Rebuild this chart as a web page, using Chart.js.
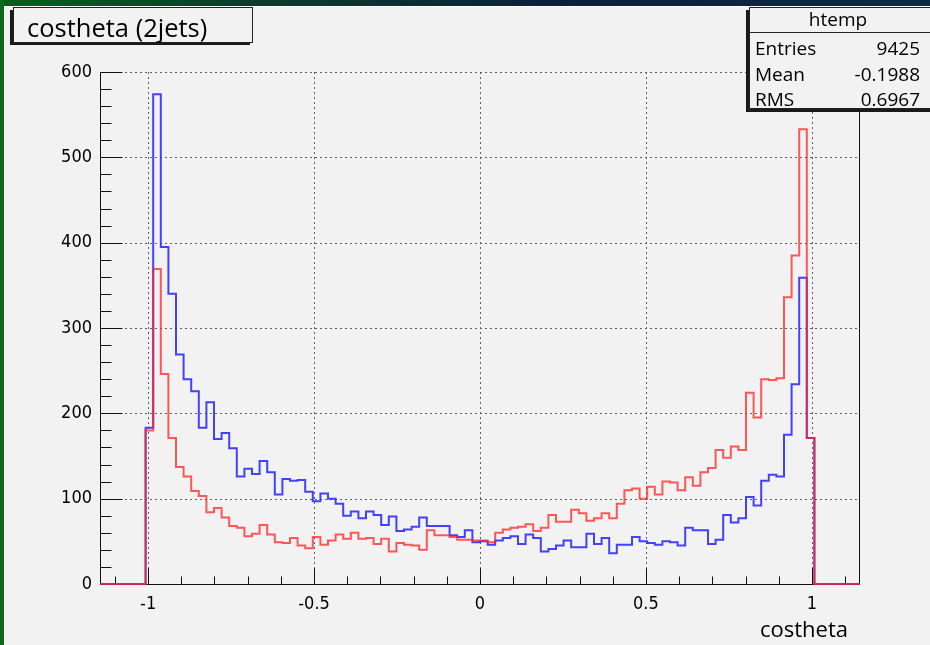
<!DOCTYPE html>
<html>
<head>
<meta charset="utf-8">
<title>costheta (2jets)</title>
<script src="https://cdn.jsdelivr.net/npm/chart.js@4.4.0/dist/chart.umd.min.js"></script>
<style>
  html, body { margin: 0; padding: 0; background: #f2f2f2; overflow: hidden; }
  #wrap { position: relative; width: 930px; height: 645px; }
  canvas { display: block; }
</style>
</head>
<body>
<div id="wrap"><canvas id="c" width="930" height="645"></canvas></div>
<script>
// Histogram binning (100 equal bins over the axis range)
const X_MIN = -1.145;
const X_MAX = 1.145;
const N_BINS = 100;
const Y_MIN = 0;
const Y_MAX = 600;

// Axis ticks
const xTickValues = [-1, -0.5, 0, 0.5, 1];
const xTickLabels = ['-1', '-0.5', '0', '0.5', '1'];
const yTickValues = [0, 100, 200, 300, 400, 500, 600];
const yTickLabels = ['0', '100', '200', '300', '400', '500', '600'];

// Bin contents, one entry per bin, left to right
const htempCounts = [
  0, 0, 0, 0, 0, 0,
  183, 574, 395, 340, 269, 240, 226, 183, 213, 170,
  177, 159, 126, 135, 129, 144, 131, 105, 123, 121,
  122, 108, 97, 106, 100, 94, 80, 85, 77, 85,
  81, 69, 79, 62, 64, 67, 78, 68, 68, 68,
  57, 55, 63, 49, 50, 46, 51, 54, 56, 47,
  58, 54, 38, 41, 45, 51, 43, 43, 59, 47,
  54, 36, 46, 46, 55, 50, 48, 46, 50, 49,
  45, 66, 63, 63, 47, 52, 81, 72, 77, 102,
  92, 121, 128, 126, 175, 234, 359, 171,
  0, 0, 0, 0, 0, 0
];
const overlayCounts = [
  0, 0, 0, 0, 0, 0,
  180, 369, 246, 171, 137, 126, 109, 103, 84, 89,
  78, 68, 66, 56, 59, 69, 58, 49, 48, 54,
  45, 42, 55, 46, 51, 58, 53, 60, 53, 54,
  47, 53, 38, 48, 46, 45, 40, 63, 57, 57,
  55, 52, 52, 51, 51, 49, 60, 64, 66, 67,
  70, 62, 66, 81, 73, 73, 87, 83, 74, 77,
  83, 77, 94, 110, 112, 100, 114, 105, 120, 119,
  110, 125, 115, 131, 136, 157, 148, 161, 157, 224,
  195, 240, 239, 241, 336, 385, 533, 171,
  0, 0, 0, 0, 0, 0
];

// Texts
const titleText = 'costheta (2jets)';
const xAxisTitle = 'costheta';
const statsName = 'htemp';
const statsLabels = ['Entries', 'Mean', 'RMS'];
const statsValues = ['9425', '-0.1988', '0.6967'];

// Step outline points: left edge of every bin, closed at the right end of the range
function histPoints(counts) {
  const w = (X_MAX - X_MIN) / N_BINS;
  const pts = counts.map((c, i) => ({ x: X_MIN + i * w, y: c }));
  pts.push({ x: X_MAX, y: counts[counts.length - 1] });
  return pts;
}

const tickFont = "'Liberation Sans Narrow', 'DejaVu Sans Condensed', 'Liberation Sans', sans-serif";
const textFont = "'Open Sans', 'Noto Sans', sans-serif";

const rootStyle = {
  id: 'rootStyle',
  beforeDraw(chart) {
    const ctx = chart.ctx;
    ctx.save();
    ctx.fillStyle = '#f2f2f2';
    ctx.fillRect(0, 0, chart.width, chart.height);
    // window edge strips
    const g = ctx.createLinearGradient(0, 0, chart.width, 0);
    g.addColorStop(0, '#0a5e1e');
    g.addColorStop(0.3, '#0c3a2c');
    g.addColorStop(0.6, '#0b1f3c');
    g.addColorStop(1, '#0e2a44');
    ctx.fillStyle = g;
    ctx.fillRect(0, 0, chart.width, 6);
    ctx.fillStyle = '#0a6a1c';
    ctx.fillRect(0, 0, 4, chart.height);
    ctx.fillStyle = '#ffffff';
    ctx.fillRect(4, 6, chart.width - 4, 1);
    ctx.fillRect(4, 6, 1, chart.height - 6);
    ctx.restore();
  },
  beforeDatasetsDraw(chart) {
    const ctx = chart.ctx;
    const xs = chart.scales.x, ys = chart.scales.y;
    const a = chart.chartArea;
    ctx.save();
    // dotted grid
    ctx.strokeStyle = '#5e5e5e';
    ctx.lineWidth = 1;
    ctx.setLineDash([2, 3]);
    xTickValues.forEach(v => {
      const px = Math.round(xs.getPixelForValue(v)) + 0.5;
      ctx.beginPath(); ctx.moveTo(px, a.bottom); ctx.lineTo(px, a.top); ctx.stroke();
    });
    yTickValues.forEach(v => {
      if (v === Y_MIN) return;
      const py = Math.round(ys.getPixelForValue(v)) + 0.5;
      ctx.beginPath(); ctx.moveTo(a.left, py); ctx.lineTo(a.right, py); ctx.stroke();
    });
    ctx.setLineDash([]);

    // frame and ticks, under the histograms
    const L = Math.round(a.left) + 0.5, R = Math.round(a.right) - 0.5;
    const B = Math.round(a.bottom) + 0.5, T = Math.round(a.top);
    ctx.strokeStyle = '#111';
    ctx.beginPath();
    ctx.moveTo(L, T); ctx.lineTo(L, B); ctx.lineTo(R, B); ctx.lineTo(R, T);
    ctx.stroke();
    // y ticks: majors every 100, minors every 20
    for (let v = Y_MIN; v <= Y_MAX; v += 20) {
      const py = Math.round(ys.getPixelForValue(v)) + 0.5;
      const len = (v % 100 === 0) ? 22 : 11;
      ctx.beginPath(); ctx.moveTo(L, py); ctx.lineTo(L + len, py); ctx.stroke();
    }
    // x ticks: majors every 0.5, minors every 0.1
    for (let i = -11; i <= 11; i++) {
      const v = i / 10;
      const px = Math.round(xs.getPixelForValue(v)) + 0.5;
      const len = (i % 5 === 0) ? 16 : 8;
      ctx.beginPath(); ctx.moveTo(px, B); ctx.lineTo(px, B - len); ctx.stroke();
    }
    ctx.restore();
  },
  afterDraw(chart) {
    const ctx = chart.ctx;
    const a = chart.chartArea;
    ctx.save();
    // title box with shadow
    ctx.fillStyle = '#1a1a1a';
    ctx.fillRect(10, 10, 3, 35);
    ctx.fillRect(10, 42, 240, 3);
    ctx.fillStyle = '#f2f2f2';
    ctx.fillRect(13, 7, 239, 35);
    ctx.strokeStyle = '#222';
    ctx.lineWidth = 1;
    ctx.strokeRect(13.5, 7.5, 239, 35);
    ctx.fillStyle = '#000';
    ctx.font = '25.5px ' + textFont;
    ctx.textBaseline = 'alphabetic';
    ctx.textAlign = 'left';
    ctx.fillText(titleText, 27, 37);

    // statistics box with shadow
    ctx.fillStyle = '#1a1a1a';
    ctx.fillRect(746, 10, 3, 102);
    ctx.fillRect(746, 109, 190, 3);
    ctx.fillStyle = '#f2f2f2';
    ctx.fillRect(749, 7, 190, 102);
    ctx.strokeStyle = '#222';
    ctx.beginPath();
    ctx.moveTo(chart.width, 7.5); ctx.lineTo(749.5, 7.5); ctx.lineTo(749.5, 108.5); ctx.lineTo(chart.width, 108.5);
    ctx.moveTo(749.5, 32.5); ctx.lineTo(chart.width, 32.5);
    ctx.stroke();
    ctx.fillStyle = '#000';
    ctx.font = '19px ' + textFont;
    ctx.textAlign = 'center';
    ctx.fillText(statsName, 838, 26);
    const rowY = [55, 81, 106];
    statsLabels.forEach((lab, i) => {
      ctx.textAlign = 'left';
      ctx.fillText(lab, 755, rowY[i]);
      ctx.textAlign = 'right';
      ctx.fillText(statsValues[i], 920, rowY[i]);
    });

    // x axis title
    ctx.font = '22px ' + textFont;
    ctx.textAlign = 'right';
    ctx.fillText(xAxisTitle, a.right - 12, 637);
    ctx.restore();
  }
};

new Chart(document.getElementById('c'), {
  type: 'line',
  data: {
    datasets: [
      {
        label: 'overlay',
        data: histPoints(overlayCounts),
        borderColor: 'rgba(255, 35, 35, 0.75)',
        borderWidth: 2,
        stepped: true,
        pointRadius: 0,
        fill: false,
        order: 0,
        clip: 4
      },
      {
        label: statsName,
        data: histPoints(htempCounts),
        borderColor: 'rgba(35, 35, 255, 0.85)',
        borderWidth: 2,
        stepped: true,
        pointRadius: 0,
        fill: false,
        order: 1,
        clip: 4
      }
    ]
  },
  options: {
    responsive: false,
    animation: false,
    devicePixelRatio: 1,
    layout: { padding: { left: 0, right: 70, top: 72, bottom: 0 } },
    plugins: {
      legend: { display: false },
      tooltip: { enabled: false },
      title: { display: false }
    },
    scales: {
      x: {
        type: 'linear',
        min: X_MIN,
        max: X_MAX,
        grid: { display: false, drawTicks: false },
        border: { display: false },
        afterBuildTicks: s => { s.ticks = xTickValues.map(v => ({ value: v })); },
        afterFit: s => { s.height = 61; },
        ticks: {
          autoSkip: false,
          maxRotation: 0,
          padding: 10,
          color: '#000',
          font: { family: tickFont, size: 18 },
          callback: (v, i) => xTickLabels[i]
        }
      },
      y: {
        type: 'linear',
        min: Y_MIN,
        max: Y_MAX,
        grid: { display: false, drawTicks: false },
        border: { display: false },
        afterBuildTicks: s => { s.ticks = yTickValues.map(v => ({ value: v })); },
        afterFit: s => { s.width = 100; },
        ticks: {
          autoSkip: false,
          padding: 8,
          color: '#000',
          font: { family: tickFont, size: 18 },
          callback: (v, i) => yTickLabels[i]
        }
      }
    }
  },
  plugins: [rootStyle]
});
</script>
</body>
</html>
